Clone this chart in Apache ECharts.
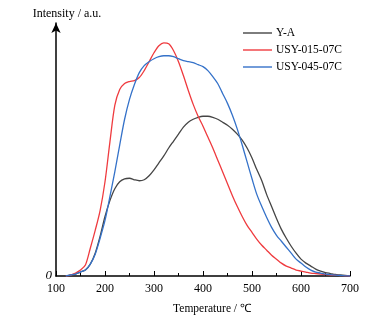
<!DOCTYPE html>
<html>
<head>
<meta charset="utf-8">
<script src="https://cdn.jsdelivr.net/npm/echarts@6/dist/echarts.min.js"></script>
<style>
html, body { margin: 0; padding: 0; background: #fff; }
#pageEcharts { width: 384px; height: 320px; }
</style>
</head>
<body>
<div id="pageEcharts"></div>
<script>
// temperature grid, 120..700 step 10
var temperature = [120,130,140,150,160,170,180,190,200,210,220,230,240,250,260,270,280,290,300,310,
                   320,330,340,350,360,370,380,390,400,410,420,430,440,450,460,470,480,490,500,510,
                   520,530,540,550,560,570,580,590,600,610,620,630,640,650,660,670,680,690,700];
var seriesNames = ['Y-A', 'USY-015-07C', 'USY-045-07C'];
var yA     = [0,1,2,4,6,12,23,40,60,76,88,95,98,98.5,97,96,97,101,107,114,
              121,129,136,143,150,155,158,160,161,161,160,158,155,152,148,143,137,129,119,107,
              96,82,70,58,47,38,30,23,17,13,10,7,5,3.5,2.5,1.5,1,0.5,0];
var usy015 = [0,1,3,6,11,28,46,66,95,135,172,188,194,196,197,200,207,216,225,232,
              235,234,227,216,202,187,173,161,151,140,129,117,105,93,81,70,60,51,44,37,
              31,26,21,17,13,10,8,6,5,4,3,2.5,2,1.5,1,0.7,0.4,0.2,0];
var usy045 = [0,1,2,4,6,12,22,38,56,80,105,132,158,178,193,205,212,216,219,221,
              222,222,221,219,217,216,215,213,211,207,201,194,184,174,162,148,132,115,98,82,
              70,59,49,41,35,29,23,17,13,9,6,4,3,2,1.3,0.8,0.5,0.2,0];
var colors = ['#454545', '#ef3b3f', '#3572c9'];

function pairs(ys) {
    return temperature.map(function (t, i) { return [t, ys[i]]; });
}

var serif = 'Liberation Serif';
var myChart = echarts.init(document.getElementById("pageEcharts"));
var option = {
    animation: false,
    color: colors,
    grid: {
        left: 56,
        right: 34,
        top: 23,
        bottom: 42
    },
    legend: {
        orient: 'vertical',
        left: 243,
        top: 27,
        padding: 0,
        itemWidth: 29,
        itemHeight: 12,
        itemGap: 5,
        icon: 'path://M0,0L29,0L29,1.4L0,1.4Z',
        data: seriesNames,
        textStyle: {
            fontFamily: serif,
            fontSize: 11.5,
            color: '#000',
            padding: [0, 0, 0, -1]
        }
    },
    xAxis: {
        type: 'value',
        min: 100,
        max: 700,
        interval: 100,
        name: 'Temperature / ℃',
        nameLocation: 'middle',
        nameGap: 27,
        nameTextStyle: { fontFamily: serif, fontSize: 11.5, color: '#000', padding: [0, 0, 0, 18] },
        axisLine: { lineStyle: { color: '#000', width: 1.5 } },
        axisTick: { inside: true, length: 5, lineStyle: { color: '#000' } },
        minorTick: { show: true, splitNumber: 2, length: 3, lineStyle: { color: '#000' } },
        axisLabel: { margin: 7, fontFamily: serif, fontSize: 12, color: '#000' },
        splitLine: { show: false }
    },
    yAxis: {
        type: 'value',
        min: 0,
        max: 255,
        interval: 255,
        name: 'Intensity / a.u.',
        nameLocation: 'end',
        nameGap: 3,
        nameTextStyle: { fontFamily: serif, fontSize: 12, color: '#000', padding: [0, 0, 0, 22] },
        axisLine: {
            show: true,
            symbol: ['none', 'arrow'],
            symbolSize: [7, 10],
            lineStyle: { color: '#000', width: 1.5 }
        },
        axisTick: { show: false },
        axisLabel: {
            margin: 4,
            fontFamily: serif,
            fontStyle: 'italic',
            fontSize: 13,
            color: '#000',
            formatter: function (v) { return v === 0 ? '0' : ''; }
        },
        splitLine: { show: false }
    },
    series: [
        { name: seriesNames[0], type: 'line', data: pairs(yA), smooth: 0.3, symbol: 'none', lineStyle: { width: 1.3 } },
        { name: seriesNames[1], type: 'line', data: pairs(usy015), smooth: 0.3, symbol: 'none', lineStyle: { width: 1.3 } },
        { name: seriesNames[2], type: 'line', data: pairs(usy045), smooth: 0.3, symbol: 'none', lineStyle: { width: 1.3 } }
    ]
};
myChart.setOption(option);
</script>
</body>
</html>
